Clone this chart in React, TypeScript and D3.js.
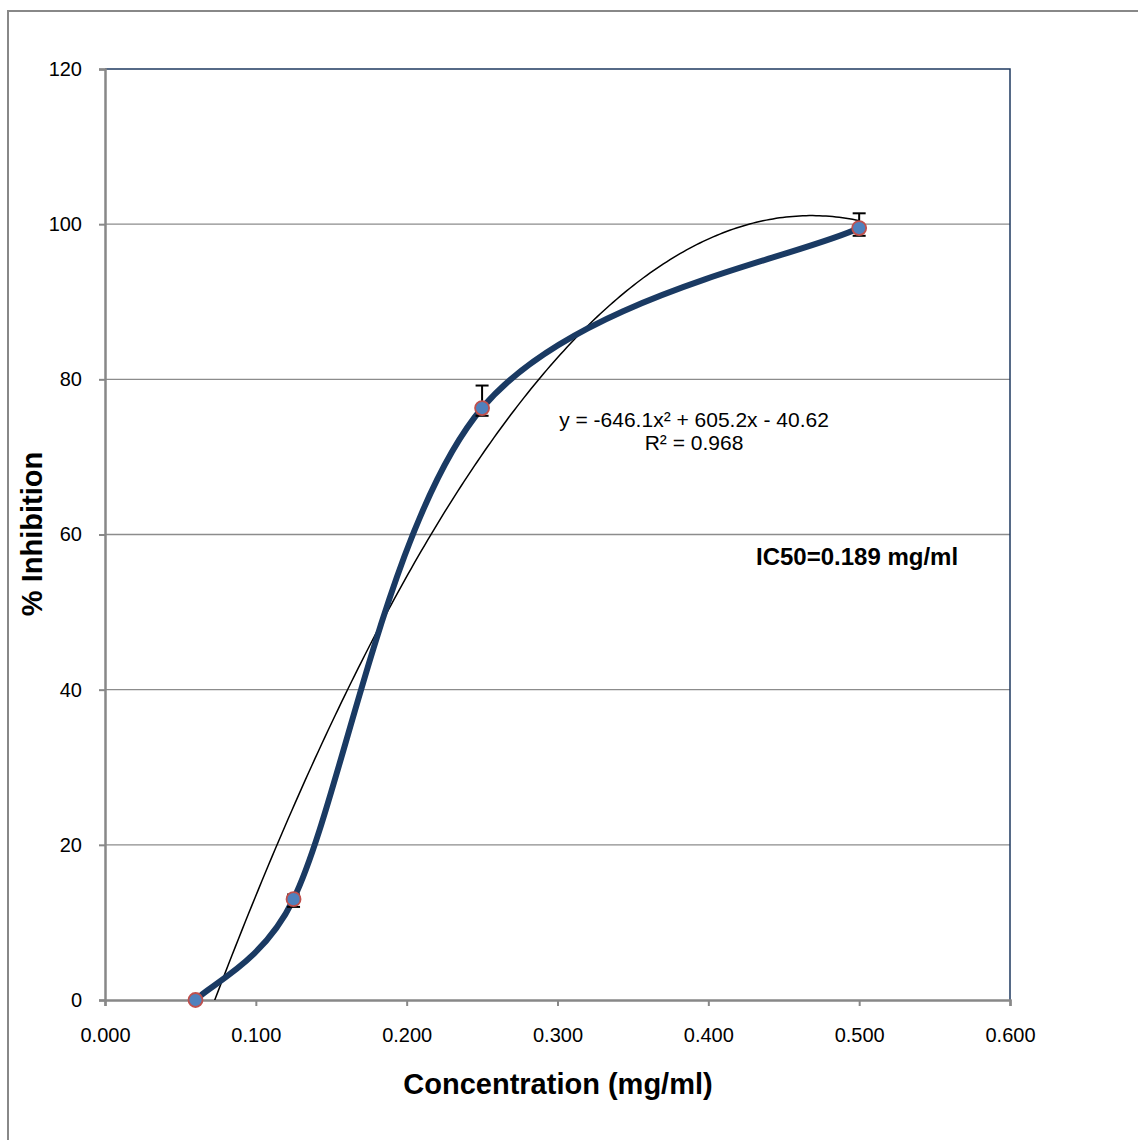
import React, { useEffect, useRef } from 'react';
import * as d3 from 'd3';

// data
const concentrations = [0.06, 0.125, 0.25, 0.5];
const inhibition = [0, 13, 76.3, 99.5];
const errUp = [0, 0.6, 2.9, 1.9];
const errDown = [0, 1, 1, 1];
const xTicks = [0, 0.1, 0.2, 0.3, 0.4, 0.5, 0.6];
const yTicks = [0, 20, 40, 60, 80, 100, 120];
// polynomial trendline coefficients (a x^2 + b x + c)
const trendCoef = [-646.1, 605.2, -40.62];
const trendLabel = ['y = -646.1x² + 605.2x - 40.62', 'R² = 0.968'];
const ic50Label = 'IC50=0.189 mg/ml';

// spreadsheet-style smoothed line: cubic bezier, tangent (P[i+1]-P[i-1])/6,
// handle limited to half of the segment length
const smoothPath = (pts: [number, number][]) => {
  const p = d3.path();
  const n = pts.length;
  p.moveTo(pts[0][0], pts[0][1]);
  const dist = (a: [number, number], b: [number, number]) => Math.hypot(b[0] - a[0], b[1] - a[1]);
  for (let i = 0; i < n - 1; i++) {
    const p0 = pts[Math.max(0, i - 1)];
    const p1 = pts[i];
    const p2 = pts[i + 1];
    const p3 = pts[Math.min(n - 1, i + 2)];
    const seg = dist(p1, p2);
    let f1 = 1 / 6, f2 = 1 / 6;
    const d02 = dist(p0, p2), d13 = dist(p1, p3);
    if (d02 * f1 > seg / 2) f1 = seg / 2 / d02;
    if (d13 * f2 > seg / 2) f2 = seg / 2 / d13;
    p.bezierCurveTo(
      p1[0] + (p2[0] - p0[0]) * f1, p1[1] + (p2[1] - p0[1]) * f1,
      p2[0] - (p3[0] - p1[0]) * f2, p2[1] - (p3[1] - p1[1]) * f2,
      p2[0], p2[1]
    );
  }
  return p.toString();
};

const App = () => {
  const ref = useRef<SVGSVGElement>(null);

  useEffect(() => {
    const svg = d3.select(ref.current);
    svg.selectAll('*').remove();

    const left = 105, right = 1010, top = 69, bottom = 1000;
    const font = '"Liberation Sans", Arial, Helvetica, sans-serif';

    const x = d3.scaleLinear().domain([0, 0.6]).range([left, right]);
    const y = d3.scaleLinear().domain([0, 120]).range([bottom, top]);

    // outer chart frame
    svg.append('rect')
      .attr('x', 8).attr('y', 11)
      .attr('width', 1200).attr('height', 1200)
      .attr('fill', 'white')
      .attr('stroke', '#888888')
      .attr('stroke-width', 2);

    // gridlines
    svg.append('g')
      .selectAll('line')
      .data(yTicks.filter(t => t > 0 && t < 120))
      .join('line')
      .attr('x1', left).attr('x2', right)
      .attr('y1', d => y(d)).attr('y2', d => y(d))
      .attr('stroke', '#8c8c8c')
      .attr('stroke-width', 1.3);

    // plot border top/right (dark blue)
    svg.append('path')
      .attr('d', `M${left},${top}H${right}V${bottom}`)
      .attr('fill', 'none')
      .attr('stroke', '#1f3a60')
      .attr('stroke-width', 1.5);

    // y axis
    const yAxis = svg.append('g')
      .attr('transform', `translate(${left},0)`)
      .call(d3.axisLeft(y).tickValues(yTicks).tickSize(6).tickPadding(17).tickFormat(d3.format('d')));
    yAxis.select('.domain').attr('stroke', '#888888').attr('stroke-width', 2.5);
    yAxis.selectAll('.tick line').attr('stroke', '#888888').attr('stroke-width', 2);
    yAxis.selectAll('.tick text').attr('font-size', 20).attr('font-family', font).attr('fill', '#000');

    // x axis
    const xAxis = svg.append('g')
      .attr('transform', `translate(0,${bottom})`)
      .call(d3.axisBottom(x).tickValues(xTicks).tickSize(6).tickPadding(22).tickFormat(d3.format('.3f')));
    xAxis.select('.domain').attr('stroke', '#888888').attr('stroke-width', 2.5);
    xAxis.selectAll('.tick line').attr('stroke', '#888888').attr('stroke-width', 2);
    xAxis.selectAll('.tick text').attr('font-size', 20).attr('font-family', font).attr('fill', '#000');

    const points = concentrations.map((c, i) => ({ c, v: inhibition[i], up: errUp[i], down: errDown[i] }));

    // clip for trendline
    svg.append('clipPath').attr('id', 'plotClip')
      .append('rect')
      .attr('x', left).attr('y', top)
      .attr('width', right - left).attr('height', bottom - top);

    // trendline
    const [a, b, c0] = trendCoef;
    const trendX = d3.range(0, 201).map(i => concentrations[0] + (concentrations[3] - concentrations[0]) * i / 200);
    svg.append('path')
      .attr('clip-path', 'url(#plotClip)')
      .attr('d', d3.line<number>().x(t => x(t)).y(t => y(a * t * t + b * t + c0))(trendX))
      .attr('fill', 'none')
      .attr('stroke', '#000')
      .attr('stroke-width', 1.5);

    // smoothed series line
    svg.append('path')
      .attr('d', smoothPath(points.map(d => [x(d.c), y(d.v)] as [number, number])))
      .attr('fill', 'none')
      .attr('stroke', '#1a3a63')
      .attr('stroke-width', 6)
      .attr('stroke-linecap', 'round');

    // error bars
    const eb = svg.append('g').attr('stroke', '#000').attr('stroke-width', 2);
    points.filter(d => d.up > 0 || d.down > 0).forEach(d => {
      const px = x(d.c);
      eb.append('line').attr('x1', px).attr('x2', px).attr('y1', y(d.v + d.up)).attr('y2', y(d.v - d.down));
      eb.append('line').attr('x1', px - 6.5).attr('x2', px + 6.5).attr('y1', y(d.v + d.up)).attr('y2', y(d.v + d.up));
      eb.append('line').attr('x1', px - 6.5).attr('x2', px + 6.5).attr('y1', y(d.v - d.down)).attr('y2', y(d.v - d.down));
    });

    // markers
    svg.append('g')
      .selectAll('circle')
      .data(points)
      .join('circle')
      .attr('cx', d => x(d.c))
      .attr('cy', d => y(d.v))
      .attr('r', 7)
      .attr('fill', '#4f81bd')
      .attr('stroke', '#c0504d')
      .attr('stroke-width', 1.8);

    // trendline label
    svg.append('text')
      .attr('font-family', font)
      .attr('font-size', 21)
      .attr('text-anchor', 'middle')
      .selectAll('tspan')
      .data(trendLabel)
      .join('tspan')
      .attr('x', 694)
      .attr('y', (d, i) => 427 + i * 23)
      .text(d => d);

    svg.append('text')
      .attr('x', 756).attr('y', 565)
      .attr('font-family', font)
      .attr('font-size', 24)
      .attr('font-weight', 'bold')
      .text(ic50Label);

    // axis titles
    svg.append('text')
      .attr('x', 558).attr('y', 1094)
      .attr('text-anchor', 'middle')
      .attr('font-family', font)
      .attr('font-size', 29)
      .attr('font-weight', 'bold')
      .text('Concentration (mg/ml)');

    svg.append('text')
      .attr('transform', `translate(42,534) rotate(-90)`)
      .attr('text-anchor', 'middle')
      .attr('font-family', font)
      .attr('font-size', 29)
      .attr('font-weight', 'bold')
      .text('% Inhibition');
  }, []);

  return (
    <svg
      ref={ref}
      width={1138}
      height={1140}
      style={{ position: 'absolute', left: 0, top: 0, background: 'white' }}
    />
  );
};

export default App;
